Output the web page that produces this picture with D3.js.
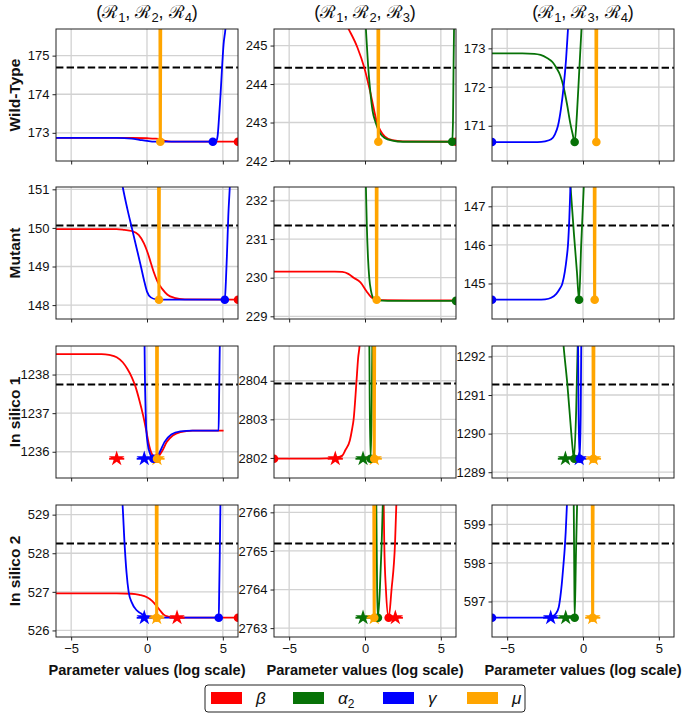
<!DOCTYPE html>
<html><head><meta charset="utf-8">
<script src="https://cdn.jsdelivr.net/npm/d3@7"></script>
<style>
body{margin:0;background:#fff}
svg{display:block}
text{font-family:"Liberation Sans",Arial,Helvetica,sans-serif}
</style>
</head><body>
<svg id="c" width="685" height="714"></svg>
<script>
// ---------- data ----------
const rowLabels = ["Wild-Type", "Mutant", "In silico 1", "In silico 2"];
const modelSubs = [["1","2","4"], ["1","2","3"], ["1","3","4"]];
const xDomain = [-6, 6];
const xTicks = [-5, 0, 5];
const xLabel = "Parameter values (log scale)";
const paramOrder = ["beta", "alpha2", "gamma", "mu"];
const paramColors = {beta: "#ff0000", alpha2: "#077207", gamma: "#0000ff", mu: "#ffa500"};
const legendNames = [["β", ""], ["α", "2"], ["γ", ""], ["μ", ""]];

const yDomains = [
  [[172.27, 175.69], [242.00, 245.43], [170.09, 173.50]],
  [[147.64, 151.06], [228.93, 232.35], [144.08, 147.50]],
  [[1235.32, 1238.74], [2801.48, 2804.90], [1288.85, 1292.27]],
  [[525.83, 529.25], [2762.77, 2766.19], [596.08, 599.50]]
];
const yTicks = [
  [[173, 174, 175], [242, 243, 244, 245], [171, 172, 173]],
  [[148, 149, 150, 151], [229, 230, 231, 232], [145, 146, 147]],
  [[1236, 1237, 1238], [2802, 2803, 2804], [1289, 1290, 1291, 1292]],
  [[526, 527, 528, 529], [2763, 2764, 2765, 2766], [597, 598, 599]]
];
const thresholds = [
  [174.69, 244.42, 172.50],
  [150.06, 231.35, 146.50],
  [1237.74, 2803.93, 1291.27],
  [528.25, 2765.19, 598.50]
];

// Wild-Type
const wt_124 = {
  beta: [[-6,172.87],[-1,172.87],[0,172.86],[0.5,172.85],[0.9,172.83],[1.2,172.79],[1.6,172.77],[6,172.77]],
  gamma: [[-6,172.87],[-2,172.87],[-1,172.85],[-0.5,172.82],[0,172.79],[0.5,172.77],[4.55,172.77],[4.65,172.9],[4.75,173.4],[4.85,174.0],[4.95,174.7],[5.05,175.3],[5.17,175.69],[5.3,176.5]],
  mu: [[0.85,176.5],[0.88,172.77],[0.91,176.5]]
};
const wt_124_dots = [["beta",6,172.77],["gamma",4.34,172.77],["mu",0.88,172.77]];

const wt_123 = {
  beta: [[-1.5,245.75],[-1.08,245.43],[-0.5,244.95],[-0.05,244.43],[0.4,243.7],[0.79,243.0],[1.0,242.8],[1.3,242.64],[1.8,242.54],[2.5,242.51],[6,242.5]],
  alpha2: [[-0.05,246.2],[0.06,245.43],[0.2,244.5],[0.35,243.8],[0.5,243.3],[0.7,243.0],[0.95,242.75],[1.3,242.6],[1.8,242.53],[2.5,242.5],[5.75,242.5],[5.8,243.0],[5.84,244.5],[5.87,245.43],[5.9,246.2]],
  mu: [[0.85,246],[0.88,242.5],[0.91,246]]
};
const wt_123_dots = [["beta",6,242.5],["alpha2",5.75,242.5],["mu",0.88,242.5]];

const wt_134 = {
  alpha2: [[-6,172.87],[-4,172.87],[-3.2,172.86],[-2.8,172.83],[-2.4,172.76],[-2.0,172.64],[-1.76,172.5],[-1.5,172.3],[-1.28,172.0],[-1.05,171.55],[-0.83,171.05],[-0.68,170.78],[-0.55,170.58],[-0.4,171.3],[-0.25,172.4],[-0.1,173.5],[0,174.2]],
  gamma: [[-6,170.58],[-3,170.58],[-2.5,170.6],[-2.1,170.65],[-1.85,170.78],[-1.65,171.0],[-1.45,171.45],[-1.28,172.0],[-1.12,172.7],[-0.99,173.5],[-0.88,174.2]],
  mu: [[0.85,174.2],[0.88,170.58],[0.91,174.2]]
};
const wt_134_dots = [["gamma",-6,170.58],["alpha2",-0.55,170.58],["mu",0.88,170.58]];

// Mutant
const mu_124 = {
  beta: [[-6,149.97],[-2,149.97],[-1.5,149.95],[-1,149.92],[-0.55,149.82],[-0.2,149.6],[0.05,149.35],[0.25,149.1],[0.45,148.85],[0.7,148.6],[1.0,148.42],[1.35,148.27],[1.8,148.19],[2.5,148.15],[6,148.14]],
  gamma: [[-1.8,151.5],[-1.6,151.06],[-1.3,150.5],[-1.0,150.0],[-0.7,149.5],[-0.4,149.0],[-0.2,148.65],[0,148.35],[0.25,148.2],[0.6,148.15],[1.0,148.14],[5.13,148.14],[5.2,148.6],[5.28,149.4],[5.36,150.3],[5.46,151.06],[5.55,151.7]],
  mu: [[0.76,151.7],[0.79,148.14],[0.82,151.7]]
};
const mu_124_dots = [["beta",6,148.14],["gamma",5.13,148.14],["mu",0.79,148.14]];

const mu_123 = {
  beta: [[-6,230.16],[-2,230.16],[-1.5,230.15],[-1.1,230.1],[-0.75,230.0],[-0.3,229.88],[0.1,229.65],[0.4,229.5],[0.6,229.45],[1.0,229.42],[6,229.41]],
  alpha2: [[0.02,233],[0.06,232.35],[0.12,231.35],[0.2,230.5],[0.28,230.0],[0.4,229.65],[0.55,229.47],[0.8,229.41],[1.5,229.4],[6,229.4]],
  mu: [[0.74,233],[0.77,229.43],[0.8,233]]
};
const mu_123_dots = [["alpha2",6,229.4],["mu",0.77,229.43]];

const mu_134 = {
  alpha2: [[-0.92,148],[-0.82,147.5],[-0.6,146.3],[-0.4,145.3],[-0.26,144.58],[-0.12,146.0],[0.05,147.5],[0.1,148]],
  gamma: [[-6,144.58],[-3,144.58],[-2.5,144.59],[-2.1,144.63],[-1.76,144.73],[-1.55,144.85],[-1.36,145.0],[-1.2,145.3],[-1.08,145.65],[-0.99,146.0],[-0.9,146.7],[-0.83,147.5],[-0.76,148.2]],
  mu: [[0.74,148.2],[0.77,144.58],[0.8,148.2]]
};
const mu_134_dots = [["gamma",-6,144.58],["alpha2",-0.26,144.58],["mu",0.77,144.58]];

// In silico 1
const s1_124 = {
  beta: [[-6,1238.53],[-3,1238.53],[-2.5,1238.51],[-2,1238.45],[-1.6,1238.32],[-1.3,1238.15],[-1.0,1237.93],[-0.77,1237.7],[-0.5,1237.33],[-0.26,1236.95],[-0.05,1236.55],[0.15,1236.15],[0.35,1235.92],[0.6,1235.84],[0.8,1235.9],[1.0,1236.02],[1.3,1236.25],[1.7,1236.42],[2.2,1236.51],[3,1236.55],[5.05,1236.55]],
  gamma: [[-0.18,1239.5],[-0.16,1238.74],[-0.14,1238.0],[-0.1,1237.2],[-0.05,1236.6],[0.05,1236.2],[0.2,1235.95],[0.4,1235.83],[0.6,1235.86],[0.85,1236.0],[1.15,1236.25],[1.6,1236.45],[2.2,1236.53],[3,1236.55],[4.72,1236.55],[4.75,1237.3],[4.78,1238.2],[4.8,1238.74],[4.83,1239.5]],
  mu: [[0.63,1239.5],[0.66,1235.82],[0.69,1239.5]]
};
const s1_124_dots = [["beta",0.6,1235.82],["gamma",0.42,1235.82],["mu",0.66,1235.82]];
const s1_124_stars = [["beta",-2.0,1235.82],["gamma",-0.18,1235.82],["mu",0.66,1235.82]];

const s1_123 = {
  beta: [[-6,2801.98],[-3,2801.98],[-2,2802.0],[-1.5,2802.06],[-1.3,2802.2],[-1.0,2802.45],[-0.85,2802.75],[-0.75,2803.0],[-0.57,2803.93],[-0.45,2804.6],[-0.36,2804.9],[-0.3,2805.3]],
  alpha2: [[0.28,2805.3],[0.31,2803.5],[0.37,2801.98],[0.45,2803.5],[0.49,2805.3]],
  mu: [[0.58,2805.3],[0.61,2801.98],[0.64,2805.3]]
};
const s1_123_dots = [["beta",-6,2801.98],["alpha2",0.37,2801.98],["mu",0.61,2801.98]];
const s1_123_stars = [["beta",-1.96,2801.98],["alpha2",-0.13,2801.98],["mu",0.61,2801.98]];

const s1_134 = {
  alpha2: [[-1.35,1292.6],[-1.28,1292.27],[-1.03,1291.27],[-0.77,1290.0],[-0.68,1289.6],[-0.6,1289.35],[-0.45,1290.6],[-0.35,1292.27],[-0.3,1292.7]],
  gamma: [[-0.33,1292.6],[-0.29,1290.5],[-0.22,1289.35],[-0.15,1290.5],[-0.11,1292.6]],
  mu: [[0.66,1292.6],[0.69,1289.35],[0.72,1292.6]]
};
const s1_134_dots = [["alpha2",-0.57,1289.35],["gamma",-0.22,1289.35],["mu",0.69,1289.35]];
const s1_134_stars = [["alpha2",-1.16,1289.35],["gamma",-0.25,1289.35],["mu",0.69,1289.35]];

// In silico 2
const s2_124 = {
  beta: [[-6,526.96],[-2,526.96],[-1,526.95],[-0.5,526.92],[0,526.86],[0.35,526.76],[0.66,526.62],[0.9,526.5],[1.1,526.41],[1.4,526.36],[1.8,526.34],[2.5,526.33],[6,526.33]],
  gamma: [[-1.72,529.8],[-1.61,529.25],[-1.48,528.25],[-1.35,527.5],[-1.21,527.0],[-1.0,526.72],[-0.7,526.53],[-0.44,526.45],[0,526.35],[0.5,526.33],[4.73,526.33],[4.76,527.0],[4.8,528.0],[4.84,529.25],[4.88,529.8]],
  mu: [[0.61,529.8],[0.64,526.33],[0.67,529.8]]
};
const s2_124_dots = [["beta",6,526.33],["gamma",4.73,526.33],["mu",0.64,526.33]];
const s2_124_stars = [["beta",1.98,526.33],["gamma",-0.18,526.33],["mu",0.64,526.33]];

const s2_123 = {
  beta: [[1.22,2766.6],[1.27,2765.2],[1.38,2764.0],[1.56,2763.27],[1.75,2764.0],[1.98,2765.2],[2.1,2766.6]],
  alpha2: [[0.74,2766.6],[0.77,2765.2],[0.8,2764.0],[0.85,2763.27],[0.98,2764.0],[1.1,2765.2],[1.2,2766.6]],
  mu: [[0.58,2766.6],[0.61,2763.27],[0.64,2766.6]]
};
const s2_123_dots = [["beta",1.56,2763.27],["alpha2",0.85,2763.27],["mu",0.61,2763.27]];
const s2_123_stars = [["beta",2.0,2763.27],["alpha2",-0.13,2763.27],["mu",0.61,2763.27]];

const s2_134 = {
  alpha2: [[-0.62,600],[-0.58,598],[-0.55,596.58],[-0.46,598.3],[-0.36,600]],
  gamma: [[-6,596.58],[-3,596.58],[-2.4,596.59],[-2.0,596.62],[-1.8,596.68],[-1.6,596.85],[-1.5,597.1],[-1.4,597.45],[-1.3,597.9],[-1.2,598.4],[-1.14,598.8],[-1.06,599.5],[-1.0,600.1]],
  mu: [[0.61,600],[0.64,596.58],[0.67,600]]
};
const s2_134_dots = [["gamma",-6,596.58],["alpha2",-0.55,596.58],["mu",0.64,596.58]];
const s2_134_stars = [["gamma",-2.13,596.58],["alpha2",-1.14,596.58],["mu",0.64,596.58]];

const panels = [
  [[wt_124, wt_124_dots, []], [wt_123, wt_123_dots, []], [wt_134, wt_134_dots, []]],
  [[mu_124, mu_124_dots, []], [mu_123, mu_123_dots, []], [mu_134, mu_134_dots, []]],
  [[s1_124, s1_124_dots, s1_124_stars], [s1_123, s1_123_dots, s1_123_stars], [s1_134, s1_134_dots, s1_134_stars]],
  [[s2_124, s2_124_dots, s2_124_stars], [s2_123, s2_123_dots, s2_123_stars], [s2_134, s2_134_dots, s2_134_stars]]
];
const starHalfWidth = 0.5;

// ---------- layout ----------
const svg = d3.select("#c");
const colLeft = [56, 274, 492], rowTop = [29, 187, 346, 505];
const W = 182, H = 132;
const gridColor = "#d2d2d2";

function drawPanel(r, c) {
  const [curves, dots, stars] = panels[r][c];
  const g = svg.append("g").attr("transform", `translate(${colLeft[c]},${rowTop[r]})`);
  const x = d3.scaleLinear().domain(xDomain).range([0, W]);
  const y = d3.scaleLinear().domain(yDomains[r][c]).range([H, 0]);

  // grid
  g.append("g").selectAll("line").data(xTicks).join("line")
    .attr("x1", d => x(d)).attr("x2", d => x(d)).attr("y1", 0).attr("y2", H)
    .attr("stroke", gridColor).attr("stroke-width", 1.3);
  g.append("g").selectAll("line").data(yTicks[r][c]).join("line")
    .attr("y1", d => y(d)).attr("y2", d => y(d)).attr("x1", 0).attr("x2", W)
    .attr("stroke", gridColor).attr("stroke-width", 1.3);

  const cid = `clip${r}${c}`;
  g.append("clipPath").attr("id", cid).append("rect").attr("width", W).attr("height", H);
  const pg = g.append("g").attr("clip-path", `url(#${cid})`);

  // threshold
  pg.append("line")
    .attr("x1", 0).attr("x2", W).attr("y1", y(thresholds[r][c])).attr("y2", y(thresholds[r][c]))
    .attr("stroke", "#000").attr("stroke-width", 2).attr("stroke-dasharray", "7.4,3.2");

  const line = d3.line().x(d => x(d[0])).y(d => y(d[1])).curve(d3.curveMonotoneX);
  paramOrder.forEach(p => {
    if (!curves[p]) return;
    pg.append("path").datum(curves[p]).attr("d", line)
      .attr("fill", "none").attr("stroke", paramColors[p])
      .attr("stroke-width", p === "mu" ? 3 : 1.8)
      .attr("stroke-linejoin", "round");
  });

  // star markers with horizontal bars
  stars.forEach(([p, sx, sy]) => {
    pg.append("line")
      .attr("x1", x(sx - starHalfWidth)).attr("x2", x(sx + starHalfWidth))
      .attr("y1", y(sy)).attr("y2", y(sy))
      .attr("stroke", paramColors[p]).attr("stroke-width", 2);
    pg.append("path").attr("d", d3.symbol(d3.symbolStar, 75)())
      .attr("transform", `translate(${x(sx)},${y(sy)})`)
      .attr("fill", paramColors[p]);
  });

  // optimum dots
  dots.forEach(([p, dx, dy]) => {
    pg.append("circle").attr("cx", x(dx)).attr("cy", y(dy)).attr("r", 4.3)
      .attr("fill", paramColors[p]);
  });

  // frame
  g.append("rect").attr("width", W).attr("height", H)
    .attr("fill", "none").attr("stroke", "#222").attr("stroke-width", 1);

  // axes
  const xa = d3.axisBottom(x).tickValues(xTicks).tickSize(3.5).tickPadding(3.5)
    .tickFormat(r === 3 ? d3.format("d") : () => "");
  const gx = g.append("g").attr("transform", `translate(0,${H})`).call(xa);
  const ya = d3.axisLeft(y).tickValues(yTicks[r][c]).tickSize(3.5).tickPadding(3).tickFormat(d3.format("d"));
  const gy = g.append("g").call(ya);
  [gx, gy].forEach(a => {
    a.select(".domain").remove();
    a.selectAll(".tick line").attr("stroke", "#222");
    a.selectAll("text").attr("font-size", 13).attr("fill", "#111")
      .attr("font-family", "'Liberation Sans', Arial, sans-serif");
  });

  if (r === 3) {
    g.append("text").attr("x", W / 2).attr("y", H + 38)
      .attr("text-anchor", "middle").attr("font-weight", "bold").attr("font-size", 14.6)
      .attr("fill", "#111").text(xLabel);
  }
  if (c === 0) {
    svg.append("text")
      .attr("transform", `translate(14,${rowTop[r] + H / 2}) rotate(-90)`)
      .attr("text-anchor", "middle").attr("dominant-baseline", "central")
      .attr("font-weight", "bold").attr("font-size", 15.5).attr("fill", "#111")
      .text(rowLabels[r]);
  }
}

for (let r = 0; r < 4; r++) for (let c = 0; c < 3; c++) drawPanel(r, c);

// titles
modelSubs.forEach((subs, c) => {
  const t = svg.append("text").attr("x", colLeft[c] + W / 2).attr("y", 18)
    .attr("text-anchor", "middle").attr("font-size", 18)
    .attr("font-family", "'DejaVu Sans', sans-serif").attr("fill", "#111");
  t.append("tspan").text("(");
  subs.forEach((s, i) => {
    t.append("tspan").text("ℛ");
    t.append("tspan").attr("font-size", 13).attr("dy", 4).text(s);
    t.append("tspan").attr("dy", -4).text(i < subs.length - 1 ? ", " : ")");
  });
});

// legend
const lg = svg.append("g").attr("transform", "translate(205,685)");
lg.append("rect").attr("x", 0).attr("y", 0).attr("width", 320).attr("height", 27)
  .attr("rx", 3).attr("fill", "#fff").attr("stroke", "#222").attr("stroke-width", 1);
const legX = [6, 88, 178, 262];
paramOrder.forEach((p, i) => {
  lg.append("rect").attr("x", legX[i]).attr("y", 7).attr("width", 31).attr("height", 12)
    .attr("fill", paramColors[p]);
  const t = lg.append("text").attr("x", legX[i] + 45).attr("y", 19)
    .attr("font-size", 17).attr("font-style", "italic")
    .attr("font-family", "'DejaVu Sans', sans-serif").attr("fill", "#111");
  t.append("tspan").text(legendNames[i][0]);
  if (legendNames[i][1]) t.append("tspan").attr("font-size", 12).attr("dy", 4).attr("font-style", "normal").text(legendNames[i][1]);
});
</script>
</body></html>
